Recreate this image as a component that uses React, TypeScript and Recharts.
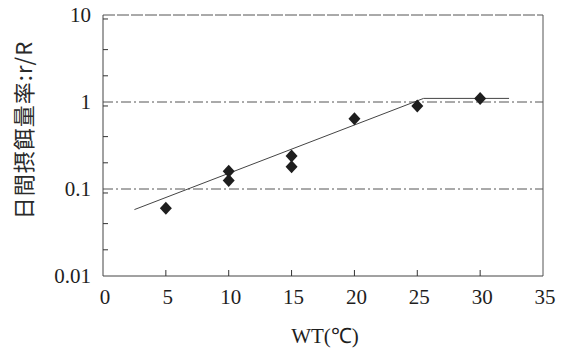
import {
  ScatterChart,
  Scatter,
  XAxis,
  YAxis,
  ReferenceLine,
} from "recharts";

// measured points: water temp (°C) vs daily feeding rate r/R
const temps = [5, 10, 10, 15, 15, 20, 25, 30];
const rates = [0.06, 0.16, 0.125, 0.24, 0.18, 0.64, 0.9, 1.1];

// fitted line (rise then plateau)
const fitTemps = [2.5, 25.5, 32.3];
const fitRates = [0.058, 1.1, 1.1];

const xTicks = [0, 5, 10, 15, 20, 25, 30, 35];
const yTicks = [0.01, 0.1, 1, 10];
const yMinor = [
  0.02, 0.03, 0.04, 0.05, 0.06, 0.07, 0.08, 0.09,
  0.2, 0.3, 0.4, 0.5, 0.6, 0.7, 0.8, 0.9,
  2, 3, 4, 5, 6, 7, 8, 9,
];
const xInnerTicks = [5, 10, 15, 20, 25, 30];

const points = temps.map((x, i) => ({ x, y: rates[i] }));
const fit = fitTemps.map((x, i) => ({ x, y: fitRates[i] }));

const ink = "#1e1e1e";
const serifStyle = { fontFamily: "'Liberation Serif', 'Times New Roman', serif" };

const Diamond = (p: { cx?: number; cy?: number }) => {
  const { cx = 0, cy = 0 } = p;
  return (
    <path
      d={`M${cx},${cy - 6.5} L${cx + 6},${cy} L${cx},${cy + 6.5} L${cx - 6},${cy} Z`}
      fill={ink}
    />
  );
};

const NoLabel = () => <g />;

const XTick = (p: any) => (
  <text
    x={p.x + 2}
    y={p.y}
    dy={13}
    textAnchor="middle"
    fill={ink}
    fontSize={21}
    style={serifStyle}
  >
    {p.payload.value}
  </text>
);

const YTick = (p: any) => (
  <text
    x={p.x}
    y={p.y}
    dy={7}
    textAnchor="end"
    fill={ink}
    fontSize={21}
    style={serifStyle}
  >
    {p.payload.value}
  </text>
);

export default function App() {
  return (
    <div style={{ position: "absolute", left: 0, top: 0, background: "#fff" }}>
      <ScatterChart
        width={561}
        height={356}
        margin={{ top: 15, right: 18, bottom: 0, left: 43 }}
        style={serifStyle}
      >
        <XAxis
          type="number"
          dataKey="x"
          domain={[0, 35]}
          ticks={xTicks}
          tickLine={false}
          tickSize={0}
          tickMargin={15}
          height={80}
          axisLine={{ stroke: "#444" }}
          tick={XTick}
          label={{
            content: () => (
              <text
                x={325}
                y={343}
                textAnchor="middle"
                fill={ink}
                fontSize={21}
                style={serifStyle}
              >
                WT(℃)
              </text>
            ),
          }}
        />
        <XAxis
          xAxisId="inner"
          type="number"
          dataKey="x"
          domain={[0, 35]}
          ticks={xInnerTicks}
          mirror
          tick={NoLabel}
          tickSize={6}
          axisLine={false}
          tickLine={{ stroke: "#333" }}
        />
        <YAxis
          type="number"
          dataKey="y"
          scale="log"
          domain={[0.01, 10]}
          allowDataOverflow
          ticks={yTicks}
          tickLine={false}
          tickSize={0}
          tickMargin={12}
          width={60}
          axisLine={{ stroke: "#444" }}
          tick={YTick}
          label={{
            content: () => (
              <text
                x={22}
                y={130}
                transform="rotate(-90 22 130)"
                textAnchor="middle"
                dominantBaseline="central"
                fill="#2a2a2a"
                fontSize={22}
                letterSpacing={1}
                style={{ fontFamily: "'Noto Sans CJK JP', sans-serif" }}
              >
                日間摂餌量率:r/R
              </text>
            ),
          }}
        />
        <YAxis
          yAxisId="minor"
          type="number"
          dataKey="y"
          scale="log"
          domain={[0.01, 10]}
          allowDataOverflow
          ticks={yMinor}
          mirror
          tick={NoLabel}
          tickSize={5}
          axisLine={false}
          tickLine={{ stroke: "#333" }}
        />
        <ReferenceLine y={1} stroke="#555" strokeDasharray="10 3 2 3" />
        <ReferenceLine y={0.1} stroke="#555" strokeDasharray="10 3 2 3" />
        <ReferenceLine y={10} stroke="#555" strokeDasharray="12 2" />
        <ReferenceLine x={35} stroke="#555" />
        {/* invisible series that keeps the inner tick axes alive */}
        <Scatter
          data={points}
          xAxisId="inner"
          yAxisId="minor"
          shape={() => <g />}
          isAnimationActive={false}
        />
        <Scatter
          data={fit}
          line={{ stroke: "#444", strokeWidth: 1 }}
          shape={() => <g />}
          isAnimationActive={false}
        />
        <Scatter data={points} shape={Diamond} isAnimationActive={false} />
      </ScatterChart>
    </div>
  );
}
